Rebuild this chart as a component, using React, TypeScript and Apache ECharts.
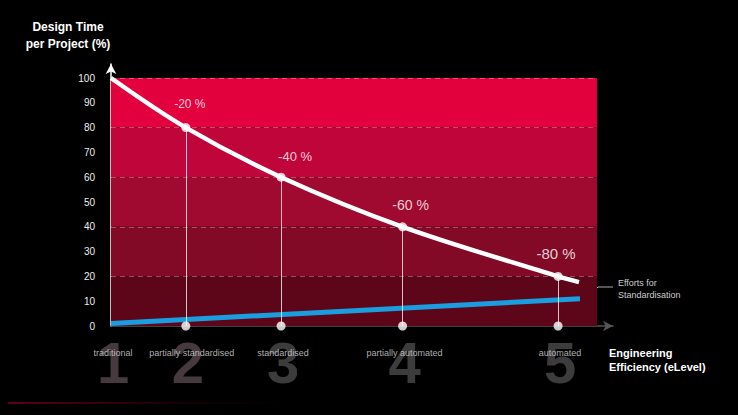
import React, { useEffect, useRef } from "react";
import * as echarts from "echarts";

const levels = ["1", "2", "3", "4", "5"];
const levelNames = ["traditional", "partially standardised", "standardised", "partially automated", "automated"];
const levelX = [0, 1.54, 3.5, 6.0, 9.2];
const designTime = [100, 80, 60, 40, 20];
const reductionLabels = ["", "-20 %", "-40 %", "-60 %", "-80 %"];
const curveEnd = [9.63, 17.7];
const effortStart = [0, 1.0];
const effortEnd = [9.65, 11.0];
const bandEdges = [0, 20, 40, 60, 80, 100];
const yTicks = [0, 10, 20, 30, 40, 50, 60, 70, 80, 90, 100];

const bandColors = ["#5e0619", "#820a26", "#a10a30", "#bf053a", "#e2003d"];
const labelOffsets = [[0, 0], [4, -24], [14, -21], [8, -22], [-2, -23]];
const labelSizes = [12, 12, 13, 14, 15];
const FONT = "'Liberation Sans', Arial, Helvetica, sans-serif";

export default function App() {
  const ref = useRef<HTMLDivElement>(null);
  useEffect(() => {
    if (!ref.current) return;
    document.body.style.margin = "0";
    document.body.style.background = "#000";
    const chart = echarts.init(ref.current, undefined, { renderer: "svg" });
    const bandMax = 10;
    const curveData = levelX.map((x, i) => [x, designTime[i]]).concat([curveEnd]);
    const option: any = {
      animation: false,
      backgroundColor: "#000",
      textStyle: { fontFamily: FONT },
      grid: { left: 111, right: 125, top: 64, bottom: 89 },
      xAxis: {
        type: "value",
        min: 0,
        max: 10.33,
        axisLine: { show: true, symbol: ["none", "arrow"], symbolSize: [8, 10], lineStyle: { color: "#555", width: 1.5 } },
        axisTick: { show: false },
        axisLabel: { show: false },
        splitLine: { show: false },
      },
      yAxis: {
        type: "value",
        min: 0,
        max: 105.65,
        interval: 10,
        axisLine: { show: true, symbol: ["none", "arrow"], symbolSize: [8, 10], lineStyle: { color: "#fff", width: 1.5 } },
        axisTick: { show: false },
        axisLabel: {
          color: "#eeeeee",
          fontSize: 10,
          margin: 16,
          fontFamily: FONT,
          formatter: (v: number) => (yTicks.indexOf(v) >= 0 ? String(v) : ""),
        },
        splitLine: { show: false },
      },
      series: [
        {
          type: "line",
          data: [],
          z: 1,
          markArea: {
            silent: true,
            data: bandColors.map((c, i) => [
              { coord: [0, bandEdges[i]], itemStyle: { color: c } },
              { coord: [bandMax, bandEdges[i + 1]] },
            ]),
          },
          markLine: {
            silent: true,
            symbol: "none",
            label: { show: false },
            lineStyle: { color: "rgba(255,255,255,0.3)", type: [5, 4], width: 1 },
            data: bandEdges.slice(1).map((v) => [{ coord: [0, v] }, { coord: [bandMax, v] }]),
          },
        },
        {
          type: "line",
          data: [],
          z: 2,
          markLine: {
            silent: true,
            symbol: "none",
            label: { show: false },
            lineStyle: { color: "rgba(255,255,255,0.75)", type: "solid", width: 1 },
            data: levelX.slice(1).map((x, i) => [{ coord: [x, 0] }, { coord: [x, designTime[i + 1]] }]),
          },
        },
        {
          type: "line",
          data: [effortStart, effortEnd],
          showSymbol: false,
          lineStyle: { color: "#1a9ee0", width: 5 },
          z: 3,
        },
        {
          type: "line",
          data: curveData,
          smooth: 0.35,
          showSymbol: false,
          lineStyle: { color: "#fff", width: 4.5 },
          z: 4,
        },
        {
          type: "scatter",
          symbolSize: 9,
          itemStyle: { color: "#fff" },
          z: 5,
          data: levelX.slice(1).map((x, i) => ({
            value: [x, designTime[i + 1]],
            label: {
              show: true,
              formatter: reductionLabels[i + 1],
              position: "inside",
              offset: labelOffsets[i + 1],
              color: "#fff",
              fontSize: labelSizes[i + 1],
              fontWeight: 500,
              fontFamily: FONT,
            },
          })),
        },
        {
          type: "scatter",
          symbolSize: 9,
          itemStyle: { color: "#fff" },
          z: 5,
          data: levelX.slice(1).map((x) => [x, 0]),
        },
        {
          type: "scatter",
          symbolSize: 0,
          z: 6,
          clip: false,
          data: levelX.map((x, i) => ({
            value: [x, 0],
            label: {
              show: true,
              formatter: levels[i],
              position: "inside",
              offset: [2, 36],
              color: i < 2 ? "#58494f" : "#4b4b4b",
              fontSize: 58,
              fontWeight: "bold",
              fontFamily: FONT,
            },
          })),
        },
        {
          type: "scatter",
          symbolSize: 0,
          z: 7,
          clip: false,
          data: levelX.map((x, i) => ({
            value: [x, 0],
            label: {
              show: true,
              formatter: levelNames[i],
              position: "inside",
              offset: [i === 1 ? 6 : 2, 27],
              color: "#dddddd",
              fontSize: 9,
              fontFamily: FONT,
            },
          })),
        },
      ],
      graphic: [
        {
          type: "rect",
          left: 8,
          top: 402,
          shape: { width: 280, height: 2 },
          style: {
            fill: new echarts.graphic.LinearGradient(0, 0, 1, 0, [
              { offset: 0, color: "rgba(120,0,25,0.8)" },
              { offset: 1, color: "rgba(60,0,15,0)" },
            ]),
          },
          silent: true,
        },
        {
          type: "text",
          x: 68,
          y: 18,
          style: {
            text: "Design Time\nper Project (%)",
            fill: "#fff",
            font: `bold 12px ${FONT}`,
            textAlign: "center",
            lineHeight: 17,
          },
        },
        {
          type: "text",
          x: 609,
          y: 346,
          style: {
            text: "Engineering\nEfficiency (eLevel)",
            fill: "#fff",
            font: `bold 11px ${FONT}`,
            textAlign: "left",
            lineHeight: 14,
          },
        },
        {
          type: "text",
          x: 618,
          y: 277,
          style: {
            text: "Efforts for\nStandardisation",
            fill: "#cccccc",
            font: `9px ${FONT}`,
            textAlign: "left",
            lineHeight: 12,
          },
        },
        {
          type: "polyline",
          shape: { points: [[587, 298], [598, 287], [613, 287]] },
          style: { stroke: "#aaa", lineWidth: 1, fill: "none" },
        },
      ],
    };
    chart.setOption(option);
    return () => chart.dispose();
  }, []);
  return <div ref={ref} style={{ width: 738, height: 415 }} />;
}
